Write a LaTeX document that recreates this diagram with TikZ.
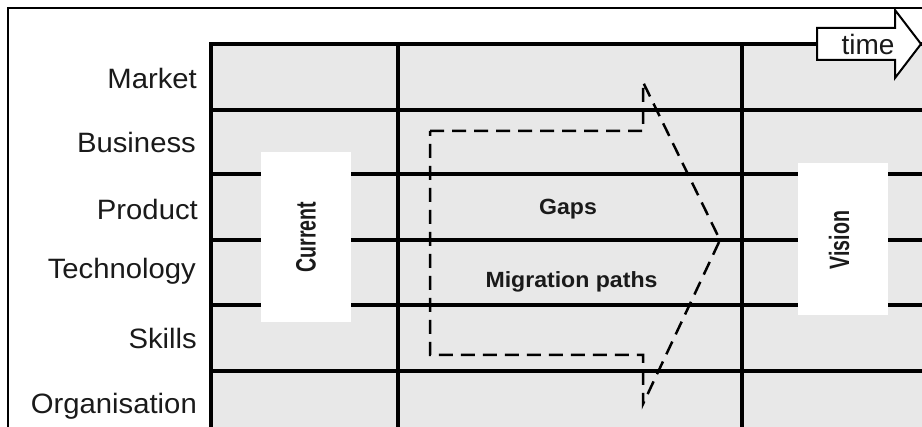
\documentclass[tikz,border=0pt]{standalone}
\usepackage{fontspec}
\setmainfont{Liberation Sans}
\usepackage{graphicx}
\definecolor{cellgray}{HTML}{E8E8E8}
\definecolor{inkc}{HTML}{1A1A1A}
\newcommand{\wideT}[1]{\scalebox{1.045}[1]{#1}}
\newcommand{\narrowT}[1]{\scalebox{0.7}[1]{#1}}
\begin{document}
\begin{tikzpicture}[x=1pt,y=-1pt,
  rowlabel/.style={anchor=base east, inner sep=0pt, text=inkc, font=\fontsize{28}{30}\selectfont},
  gridline/.style={line width=3.5pt, draw=black},
  panel/.style={fill=white, draw=none, rotate=90, inner sep=0pt, text=inkc,
                font=\fontsize{28}{30}\selectfont\bfseries},
  boldlabel/.style={anchor=base, inner sep=0pt, text=inkc, font=\fontsize{22}{24}\selectfont\bfseries},
  dashpath/.style={draw=black, line width=2.5pt, dash pattern=on 14pt off 8pt},
  timearrow/.style={draw=black, fill=white, line width=2pt, line join=miter}
]
\useasboundingbox (0,0) rectangle (922,427);
% outer frame
\draw[line width=2.5pt] (8,440) -- (8,8) -- (940,8);
% grid background
\fill[cellgray] (211,44) rectangle (940,440);
% row lines
\foreach \yy in {110,174,240,305} \draw[gridline] (211,\yy) -- (940,\yy);
\draw[line width=4.5pt] (211,371) -- (940,371);
\draw[gridline] (209.25,44) -- (940,44);
% column lines
\foreach \xx in {211,398,742} \draw[gridline] (\xx,42.25) -- (\xx,440);
% row labels
\node[rowlabel] (market) at (197,89)  {\wideT{Market}};
\node[rowlabel] (business) at (196,153) {\wideT{Business}};
\node[rowlabel] (product) at (198,220) {\wideT{Product}};
\node[rowlabel] (technology) at (196,279) {\wideT{Technology}};
\node[rowlabel] (skills) at (197,349) {\wideT{Skills}};
\node[rowlabel] (organisation) at (197,414) {\wideT{Organisation}};
% current / vision panels
\node[panel, minimum width=170pt, minimum height=90pt] (current) at (306,237) {\narrowT{Current}};
\node[panel, minimum width=152pt, minimum height=90pt] (vision) at (843,239) {};
\node[panel, fill=none] (visiontext) at (839,240) {\narrowT{Vision}};
% dashed migration arrow
\draw[dashpath] (430,131) -- (643,131) -- (643,82) -- (720,240) -- (643,404) -- (643,355) -- (430,355) -- cycle;
\node[boldlabel] (gaps) at (568,215) {\scalebox{1.05}[1]{Gaps}};
\node[boldlabel] (migration) at (571.5,288) {\scalebox{1.05}[1]{Migration paths}};
% time arrow
\draw[timearrow] (817,28) -- (895,28) -- (895,10) -- (921,44) -- (895,78) -- (895,60) -- (817,60) -- cycle;
\node[anchor=base, inner sep=0pt, text=inkc, font=\fontsize{28}{30}\selectfont] (time) at (868,55) {time};
\end{tikzpicture}
\end{document}
